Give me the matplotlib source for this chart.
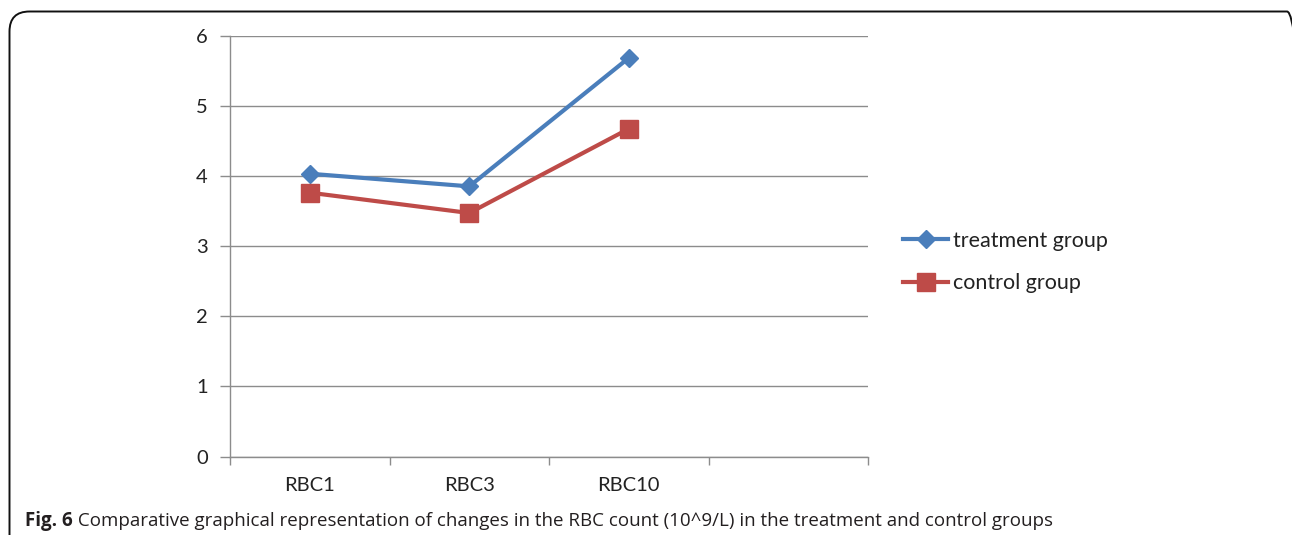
import matplotlib
matplotlib.use("Agg")
import matplotlib.pyplot as plt
from matplotlib.patches import FancyBboxPatch

categories = ["RBC1", "RBC3", "RBC10", ""]
treatment = [4.03, 3.85, 5.68]
control = [3.76, 3.47, 4.67]
yticks = [0, 1, 2, 3, 4, 5, 6]
series_names = ["treatment group", "control group"]
caption_bold = "Fig. 6"
caption_rest = " Comparative graphical representation of changes in the RBC count (10^9/L) in the treatment and control groups"

W, H = 1292, 535
fig = plt.figure(figsize=(W / 100, H / 100), dpi=100)
fig.patch.set_facecolor("white")

# rounded frame (inches, so corners stay round)
frame = FancyBboxPatch((0.095, -1.0), (1307 - 9.5) / 100, (H - 11.5) / 100 + 1.0,
                       boxstyle="round,pad=0,rounding_size=0.2",
                       transform=fig.dpi_scale_trans, fill=False, ec="#111111", lw=1.4)
fig.add_artist(frame)

ax = fig.add_axes([230 / W, 1 - 456.5 / H, (868 - 230) / W, (456.5 - 35.5) / H])
grid_c = "#8c8c8c"
x = list(range(len(categories)))
ax.set_xlim(-0.5, len(categories) - 0.5)
ax.set_ylim(0, 6)
ax.set_yticks(yticks)
ax.set_yticklabels([str(v) for v in yticks])
ax.set_xticks(x)
ax.set_xticklabels(categories)
ax.set_xticks([i - 0.5 for i in range(len(categories) + 1)], minor=True)
ax.tick_params(axis="x", which="major", length=0, pad=15)
ax.tick_params(axis="x", which="minor", length=6, color=grid_c, width=1)
ax.tick_params(axis="y", length=7, color=grid_c, width=1, pad=9)
for lab in ax.get_xticklabels() + ax.get_yticklabels():
    lab.set_fontfamily("Lato")
    lab.set_fontsize(14.5)
    lab.set_color("#222222")
for s in ["top", "right"]:
    ax.spines[s].set_visible(False)
for s in ["left", "bottom"]:
    ax.spines[s].set_color(grid_c)
    ax.spines[s].set_linewidth(1)
ax.yaxis.grid(True, color=grid_c, lw=1)
ax.set_axisbelow(True)

n = len(treatment)
ax.plot(x[:n], treatment, color="#4a7ebb", lw=3, marker="D", ms=9.5,
        label=series_names[0], solid_joinstyle="round")
ax.plot(x[:n], control, color="#be4b48", lw=3, marker="s", ms=12.5,
        label=series_names[1], solid_joinstyle="round")

leg = ax.legend(loc="center left", bbox_to_anchor=(903 / W, 1 - 262 / H),
                bbox_transform=fig.transFigure, frameon=False,
                prop={"family": "Lato", "size": 15.5}, handlelength=2.1,
                handletextpad=0.2, labelspacing=1.05, borderpad=0, borderaxespad=0)
for t in leg.get_texts():
    t.set_color("#222222")

cap_size = 13.5
fig.text(25 / W, 1 - 521 / H, caption_bold, fontfamily="Open Sans", fontweight="bold",
         fontsize=cap_size, va="center", ha="left", color="#231f20")
t1 = fig.text(0, 0, caption_bold, fontfamily="Open Sans", fontweight="bold", fontsize=cap_size)
fig.canvas.draw()
bb = t1.get_window_extent()
t1.remove()
fig.text((25 + bb.width) / W, 1 - 521 / H, caption_rest, fontfamily="Open Sans",
         fontsize=cap_size, va="center", ha="left", color="#231f20")

fig.savefig("out.png", dpi=100, facecolor="white")
